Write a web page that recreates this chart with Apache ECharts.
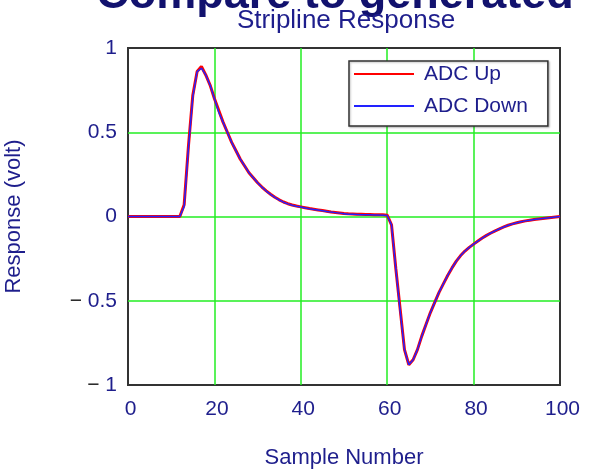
<!DOCTYPE html>
<html><head><meta charset="utf-8">
<script src="https://cdn.jsdelivr.net/npm/echarts@6/dist/echarts.min.js"></script>
<style>html,body{margin:0;padding:0;background:#fff}#c{width:590px;height:469px}</style>
</head><body><div id="c"></div>
<script>
const mainTitle = 'Compare to generated';
const subTitle = 'Stripline Response';
const xName = 'Sample Number';
const yName = 'Response (volt)';
const seriesNames = ['ADC Up', 'ADC Down'];
const xTicks = [0, 20, 40, 60, 80, 100];
const yTicks = [-1, -0.5, 0, 0.5, 1];
// sample values, index = sample number 0..100
const adcUp = [
  0,0,0,0,0,0,0,0,0,0,0,0,0,
  0.07,0.42,0.72,0.86,0.89,0.84,0.78,0.70,0.63,0.56,
  0.50,0.44,0.39,0.34,0.30,0.26,0.23,0.20,0.175,0.152,
  0.132,0.114,0.099,0.086,0.076,0.068,0.062,0.057,0.052,0.047,
  0.043,0.039,0.035,0.031,0.027,0.024,0.021,0.018,0.016,0.015,
  0.014,0.013,0.012,0.012,0.011,0.011,0.010,0.008,
  -0.05,-0.31,-0.55,-0.79,-0.88,-0.85,-0.79,-0.71,-0.64,-0.57,
  -0.51,-0.45,-0.40,-0.35,-0.305,-0.265,-0.232,-0.205,-0.183,-0.164,
  -0.146,-0.128,-0.112,-0.098,-0.085,-0.073,-0.062,-0.052,-0.044,-0.037,
  -0.031,-0.026,-0.022,-0.018,-0.015,-0.012,-0.009,-0.006,-0.003,0.0
];
const adcDown = [
  0,0,0,0,0,0,0,0,0,0,0,0,0,
  0.06,0.41,0.71,0.86,0.88,0.84,0.78,0.70,0.62,0.56,
  0.50,0.44,0.39,0.34,0.30,0.26,0.23,0.20,0.174,0.151,
  0.131,0.113,0.098,0.085,0.075,0.067,0.061,0.056,0.051,0.046,
  0.042,0.038,0.034,0.030,0.026,0.023,0.020,0.017,0.014,0.013,
  0.012,0.011,0.010,0.010,0.009,0.009,0.008,0.006,
  -0.05,-0.31,-0.56,-0.79,-0.88,-0.85,-0.79,-0.71,-0.64,-0.57,
  -0.51,-0.45,-0.40,-0.35,-0.305,-0.265,-0.232,-0.205,-0.183,-0.164,
  -0.146,-0.128,-0.112,-0.098,-0.085,-0.073,-0.062,-0.052,-0.044,-0.037,
  -0.031,-0.026,-0.022,-0.018,-0.015,-0.012,-0.009,-0.006,-0.003,0.0
];

const txt = '#1e1e8c';
const font = 'Liberation Sans, Arial, sans-serif';
const toPairs = arr => arr.map((v, i) => [i, v]);

const chart = echarts.init(document.getElementById('c'), null, {renderer: 'canvas'});
chart.setOption({
  animation: false,
  backgroundColor: '#fff',
  graphic: [
    {type: 'text', x: 335, y: -27, z: 100,
     style: {text: mainTitle, align: 'center', verticalAlign: 'top', fontSize: 45, fontWeight: 'bold', fontFamily: font, fill: '#12126e'}},
    {type: 'text', x: 346, y: 8, z: 100,
     style: {text: subTitle, align: 'center', verticalAlign: 'top', fontSize: 26, fontFamily: font, fill: txt}}
  ],
  grid: {left: 128, right: 30, top: 48, bottom: 84, outerBoundsMode: 'none', containLabel: false,
         show: true, borderColor: '#333', borderWidth: 2, backgroundColor: 'transparent'},
  legend: {
    orient: 'vertical', left: 349, top: 61,
    data: seriesNames,
    itemWidth: 60, itemHeight: 14, itemGap: 10,
    padding: [2, 20, 9, 4],
    backgroundColor: '#fff', borderColor: '#333', borderWidth: 1.5,
    shadowColor: 'rgba(0,0,0,0.25)', shadowOffsetX: 1, shadowOffsetY: 1, shadowBlur: 2,
    itemStyle: {opacity: 0},
    textStyle: {fontSize: 21, fontFamily: font, color: txt, lineHeight: 22, padding: [0, 0, 0, 5]}
  },
  xAxis: {
    type: 'value', min: xTicks[0], max: xTicks[xTicks.length - 1], interval: 20,
    name: xName, nameLocation: 'middle', nameGap: 62,
    nameTextStyle: {fontSize: 22, fontFamily: font, color: txt},
    axisLine: {show: false}, axisTick: {show: false},
    axisLabel: {fontSize: 21, fontFamily: font, color: txt, margin: 14, padding: [0, 0, 0, 5]},
    splitLine: {show: true, showMinLine: false, showMaxLine: false, lineStyle: {color: '#22ee22', width: 1.5}}
  },
  yAxis: {
    type: 'value', min: yTicks[0], max: yTicks[yTicks.length - 1], interval: 0.5,
    name: yName, nameLocation: 'middle', nameGap: 103,
    nameTextStyle: {fontSize: 22, fontFamily: font, color: txt},
    axisLine: {show: false}, axisTick: {show: false},
    axisLabel: {
      fontSize: 21, fontFamily: font, color: txt, margin: 11,
      formatter: v => v < 0 ? '{m|\u2212} ' + Math.abs(v) : String(v),
      rich: {m: {color: '#222', fontSize: 21, fontFamily: font}}
    },
    splitLine: {show: true, showMinLine: false, showMaxLine: false, lineStyle: {color: '#22ee22', width: 1.5}}
  },
  series: [
    {name: seriesNames[0], type: 'line', data: toPairs(adcUp), showSymbol: false,
     lineStyle: {color: '#ff0000', width: 3}, itemStyle: {color: '#ff0000'}, z: 2},
    {name: seriesNames[1], type: 'line', data: toPairs(adcDown), showSymbol: false,
     lineStyle: {color: '#2222ff', width: 1.5}, itemStyle: {color: '#2222ff'}, z: 3}
  ]
});
</script></body></html>
